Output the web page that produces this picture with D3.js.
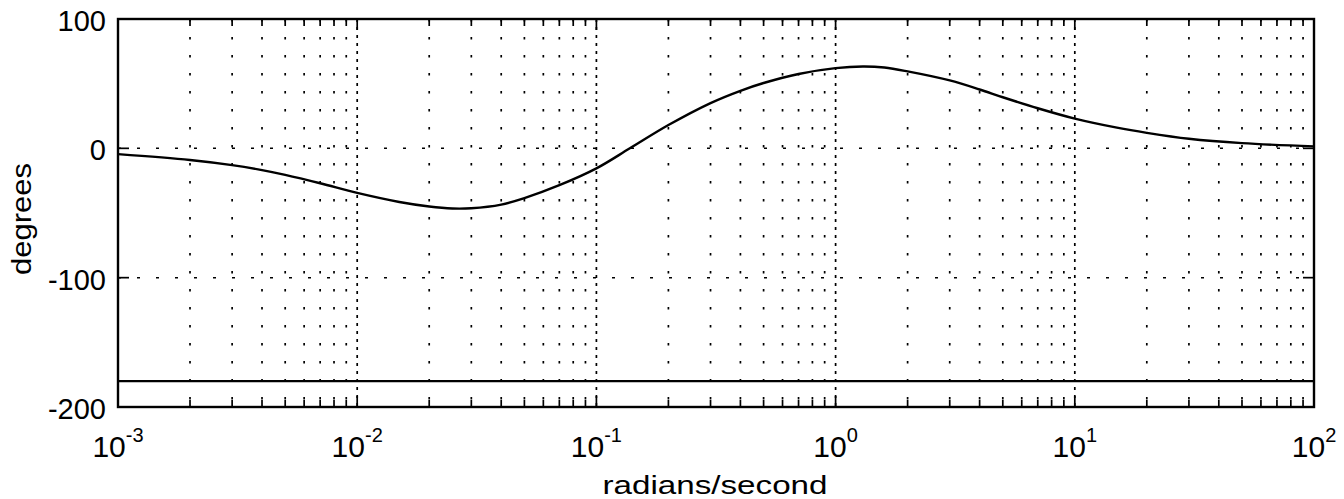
<!DOCTYPE html>
<html>
<head>
<meta charset="utf-8">
<script src="https://cdn.jsdelivr.net/npm/d3@7"></script>
<style>
  html, body { margin: 0; padding: 0; background: #fff; }
  svg { display: block; }
  text { font-family: "Liberation Sans", Arial, Helvetica, sans-serif; fill: #000; }
</style>
</head>
<body>
<svg id="chart" width="1344" height="499"></svg>
<script>
// ---- data ----
const freq = [0.001, 0.002, 0.003, 0.004, 0.005, 0.007, 0.01, 0.015, 0.02, 0.025, 0.03, 0.04, 0.05, 0.07, 0.1, 0.138, 0.2, 0.3, 0.4, 0.5, 0.7, 1.0, 1.3, 1.6, 2, 3, 4, 5, 7, 10, 15, 20, 30, 50, 100];
const phase = [-4.5, -9, -13, -16.8, -20.5, -27, -34.5, -41.5, -45, -46.5, -46.3, -43.5, -38.5, -28.5, -15.5, 0, 18, 35, 44.5, 50.5, 57.5, 62, 63.3, 62.5, 59.5, 52.5, 45.5, 39.5, 31, 23, 16, 12, 7.4, 4, 1.5];
const freq2 = [0.001, 100];
const phase2 = [-180, -180];
const xDecades = [1e-3, 1e-2, 1e-1, 1e0, 1e1, 1e2];
const xExponents = ["-3", "-2", "-1", "0", "1", "2"];
const yTicks = [-200, -100, 0, 100];
const yGridValues = [-100, 0];
const xLabel = "radians/second";
const yLabel = "degrees";

(function () {
// ---- layout ----
const pL = 118, pR = 1314, pT = 19, pB = 407;
const svg = d3.select("#chart");
const x = d3.scaleLog().domain([1e-3, 1e2]).range([pL, pR]);
const y = d3.scaleLinear().domain([-200, 100]).range([pB, pT]);

// minor values 2..9 per decade
const minor = [];
for (let e = -3; e < 2; e++) for (let m = 2; m <= 9; m++) minor.push(m * Math.pow(10, e));
const majorInner = xDecades.slice(1, -1);

const g = svg.append("g");

// minor vertical grid (dotted)
g.selectAll(".vminor").data(minor).join("line")
  .attr("x1", d => x(d)).attr("x2", d => x(d))
  .attr("y1", pT).attr("y2", pB)
  .attr("stroke", "#000").attr("stroke-width", 1.7)
  .attr("stroke-dasharray", "2.5,15.5");

// major vertical grid (denser dashes)
g.selectAll(".vmajor").data(majorInner).join("line")
  .attr("x1", d => x(d)).attr("x2", d => x(d))
  .attr("y1", pT).attr("y2", pB)
  .attr("stroke", "#000").attr("stroke-width", 1.7)
  .attr("stroke-dasharray", "3,5");

// horizontal grid
g.selectAll(".hgrid").data(yGridValues).join("line")
  .attr("x1", pL).attr("x2", pR)
  .attr("y1", d => y(d)).attr("y2", d => y(d))
  .attr("stroke", "#000").attr("stroke-width", 1.5)
  .attr("stroke-dasharray", "3,16");

// curves
const line = d3.line().x(d => x(d[0])).y(d => y(d[1])).curve(d3.curveCatmullRom.alpha(0.5));
g.append("path").datum(freq.map((f, i) => [f, phase[i]]))
  .attr("d", line).attr("fill", "none").attr("stroke", "#000").attr("stroke-width", 2.4);
g.append("path").datum(freq2.map((f, i) => [f, phase2[i]]))
  .attr("d", d3.line().x(d => x(d[0])).y(d => y(d[1])))
  .attr("fill", "none").attr("stroke", "#000").attr("stroke-width", 2.2);

// ticks on top & bottom
const tickData = minor.map(v => ({v, len: 7})).concat(xDecades.map(v => ({v, len: 11})));
g.selectAll(".tb").data(tickData).join("line")
  .attr("x1", d => x(d.v)).attr("x2", d => x(d.v))
  .attr("y1", pB).attr("y2", d => pB - d.len)
  .attr("stroke", "#000").attr("stroke-width", 1.7);
g.selectAll(".tt").data(tickData).join("line")
  .attr("x1", d => x(d.v)).attr("x2", d => x(d.v))
  .attr("y1", pT).attr("y2", d => pT + d.len)
  .attr("stroke", "#000").attr("stroke-width", 1.7);
// ticks on left & right
g.selectAll(".tl").data(yTicks).join("line")
  .attr("x1", pL).attr("x2", pL + 11)
  .attr("y1", d => y(d)).attr("y2", d => y(d))
  .attr("stroke", "#000").attr("stroke-width", 1.7);
g.selectAll(".tr").data(yTicks).join("line")
  .attr("x1", pR).attr("x2", pR - 11)
  .attr("y1", d => y(d)).attr("y2", d => y(d))
  .attr("stroke", "#000").attr("stroke-width", 1.7);

// frame
g.append("rect").attr("x", pL).attr("y", pT)
  .attr("width", pR - pL).attr("height", pB - pT)
  .attr("fill", "none").attr("stroke", "#000").attr("stroke-width", 2.4);

// y tick labels
g.selectAll(".yl").data(yTicks).join("text")
  .attr("x", pL - 12).attr("y", d => y(d) + 12)
  .attr("text-anchor", "end").attr("font-size", 29)
  .text(d => d);

// x tick labels with superscripts
const xl = g.selectAll(".xl").data(xDecades).join("text")
  .attr("x", d => x(d)).attr("y", 457)
  .attr("text-anchor", "middle").attr("font-size", 30);
xl.append("tspan").text("10");
xl.append("tspan").attr("font-size", 20).attr("dy", -15).text((d, i) => xExponents[i]);

// axis titles
g.append("text").attr("x", (pL + pR) / 2 - 1).attr("y", 494)
  .attr("text-anchor", "middle").attr("font-size", 26)
  .attr("textLength", 225).attr("lengthAdjust", "spacingAndGlyphs")
  .text(xLabel);
g.append("text").attr("transform", "translate(31,219) rotate(-90)")
  .attr("text-anchor", "middle").attr("font-size", 27)
  .attr("textLength", 112).attr("lengthAdjust", "spacingAndGlyphs")
  .text(yLabel);
})();
</script>
</body>
</html>
